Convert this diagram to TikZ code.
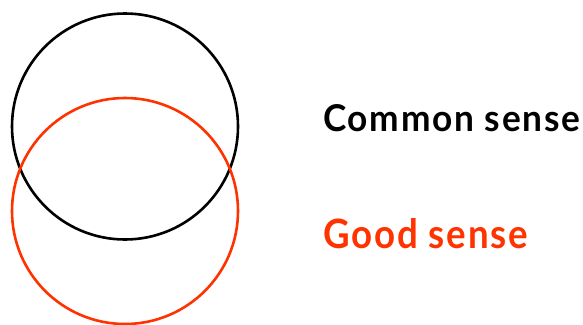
\documentclass[tikz,border=0pt]{standalone}
\usepackage{fontspec}
\setmainfont{Lato}
\definecolor{gsred}{RGB}{255,51,0}
\tikzset{
  ring/.style={line width=2.6pt},
  label/.style={anchor=base west, inner sep=0pt, font=\bfseries\fontsize{34}{40}\selectfont\addfontfeatures{LetterSpace=5}}
}
\begin{document}
\begin{tikzpicture}[x=1pt,y=-1pt]
\useasboundingbox (0,0) rectangle (583,324);
\draw[ring, black] (125,126.5) circle[radius=113];
\draw[ring, gsred] (125,211) circle[radius=113];
\node[label, text=black] (cs) at (323,131) {\resizebox{257pt}{27pt}{Common sense}};
\node[label, text=gsred] (gs) at (323,248) {\resizebox{205pt}{30pt}{Good sense}};
\end{tikzpicture}
\end{document}
